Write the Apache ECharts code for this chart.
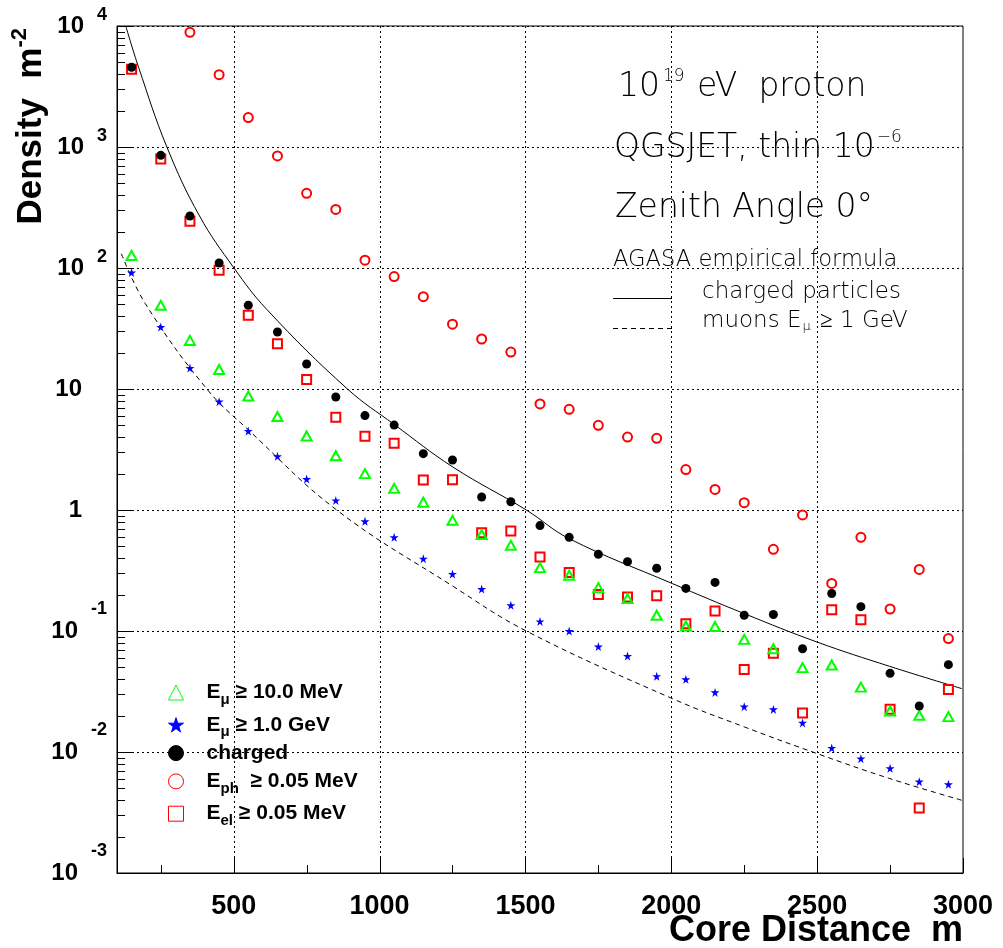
<!DOCTYPE html>
<html><head><meta charset="utf-8">
<script src="https://cdn.jsdelivr.net/npm/echarts@6/dist/echarts.min.js"></script>
<style>html,body{margin:0;padding:0;background:#fff}#c{width:1003px;height:948px}</style>
</head><body><div id="c"></div>
<script>
// ---- data ----
const distances = [150,250,350,450,550,650,750,850,950,1050,1150,1250,1350,1450,1550,1650,1750,1850,1950,2050,2150,2250,2350,2450,2550,2650,2750,2850,2950];
const charged = [4560,853,269,110,49.2,29.6,16.1,8.59,6.03,5.03,2.92,2.59,1.28,1.17,0.743,0.594,0.431,0.374,0.330,0.225,0.252,0.135,0.137,0.0714,0.204,0.159,0.0447,0.0240,0.0527];
const electrons = [4390,796,244,95.7,40.6,23.7,12.0,5.83,4.06,3.56,1.77,1.78,0.650,0.671,0.409,0.305,0.200,0.191,0.196,0.115,0.146,0.048,0.0655,0.0210,0.150,0.124,0.0226,0.00344,0.0328];
const photons = [null,null,8870,3960,1750,843,414,305,116,84.9,58.0,34.3,25.9,20.2,7.52,6.79,5.01,4.01,3.91,2.16,1.48,1.15,0.473,0.910,0.247,0.594,0.152,0.323,0.0865];
const muons10MeV = [127,49.2,25.2,14.5,8.75,5.92,4.09,2.81,2.00,1.51,1.16,0.822,0.627,0.511,0.334,0.289,0.228,0.185,0.135,0.110,0.109,0.0853,0.0714,0.0498,0.0524,0.0344,0.0218,0.0201,0.0196];
const muons1GeV = [91.6,32.5,14.9,7.86,4.50,2.78,1.80,1.20,0.807,0.594,0.396,0.296,0.222,0.163,0.120,0.100,0.0743,0.0621,0.0423,0.0399,0.0311,0.0237,0.0225,0.0174,0.0108,0.00881,0.00733,0.00569,0.00541];
// AGASA empirical formula curves
const agasaChargedX = [130,174,271,383,501,613,890,1050,1252,1503,1650,2003,2251,2500,2749,2996];
const agasaChargedY = [10000,4560,1000,269,100,45.6,10,5.1,2.26,1,0.58,0.247,0.139,0.081,0.051,0.0334];
const agasaMuonX = [115,197,408,550,853,1252,1503,2004,2251,2500,2749,2996];
const agasaMuonY = [131,50.8,10,4.6,1,0.234,0.1,0.0276,0.0161,0.0097,0.00603,0.00399];
// axes / ticks
const xMajorTicks = [500,1000,1500,2000,2500,3000];
const xGridLines = [500,1000,1500,2000,2500];
const xMinorTicks = [250,750,1250,1750,2250,2750];
const yMinorMultipliers = [2,3,4,5,6,7,8,9];
const yDecadeExponents = [-3,-2,-1,0,1,2,3];
const legendNames = ['mu10','mu1','charged','ph','el'];
const legendLabels = {
  mu10: '{m|E}{sub|μ}{m| ≥ 10.0 MeV}',
  mu1: '{m|E}{sub|μ}{m| ≥ 1.0 GeV}',
  charged: '{m|charged}',
  ph: '{m|E}{sub|ph}{m|  ≥ 0.05 MeV}',
  el: '{m|E}{sub|el}{m| ≥ 0.05 MeV}'
};

const X_MIN = 100, X_MAX = 3000, Y_MIN = 0.001, Y_MAX = 10000;
const yMinorTicks = [];
yDecadeExponents.forEach(e => yMinorMultipliers.forEach(k => yMinorTicks.push(+(k * Math.pow(10, e)).toPrecision(6))));

const pairs = (xs, ys) => xs.map((x, i) => [x, ys[i]]).filter(p => p[1] != null);
const FONT = 'Liberation Sans';
const ANN = 'DejaVu Sans';
const STAR = 'path://M50,0 L61,35 L98,35 L68,57 L79,91 L50,70 L21,91 L32,57 L2,35 L39,35 Z';

function tickSeries(data, dx, dy) {
  return {
    type: 'custom', silent: true, z: 6, clip: false, data: data,
    renderItem: (params, api) => {
      const p = api.coord([api.value(0), api.value(1)]);
      const x = Math.round(p[0]) + (dx === 0 ? 0.5 : 0), y = Math.round(p[1]) + (dy === 0 ? 0.5 : 0);
      return { type: 'line', shape: { x1: x, y1: y, x2: x + dx, y2: y + dy }, style: { stroke: '#000', lineWidth: 1 } };
    }
  };
}

const chart = echarts.init(document.getElementById('c'), null, { renderer: 'canvas' });
chart.setOption({
  animation: false,
  backgroundColor: '#fff',
  grid: { left: 117, top: 26, width: 846, height: 847, show: true, borderColor: '#000', borderWidth: 1, backgroundColor: 'transparent' },
  xAxis: {
    type: 'value', min: X_MIN, max: X_MAX,
    axisLine: { show: true, lineStyle: { color: '#000', width: 1 } },
    axisTick: { show: false },
    splitLine: { show: false },
    axisLabel: {
      customValues: xMajorTicks, margin: 20, formatter: v => String(v),
      fontFamily: FONT, fontWeight: 'bold', fontSize: 27, color: '#000', hideOverlap: false
    }
  },
  yAxis: {
    type: 'log', logBase: 10, min: Y_MIN, max: Y_MAX, splitNumber: 7,
    axisLine: { show: true, lineStyle: { color: '#000', width: 1 } },
    axisTick: { show: true, inside: true, length: 15, lineStyle: { color: '#000', width: 1 } },
    splitLine: { show: true, lineStyle: { color: '#000', width: 1, type: [2, 3] } },
    axisLabel: {
      margin: 10, color: '#000',
      formatter: v => {
        const e = Math.round(Math.log10(v));
        if (e === 0) return '{p|1}';
        if (e === 1) return '{p|10}';
        return '{b|10}' + (e > 0 ? '{sp|' : '{sn|') + e + '}';
      },
      rich: {
        p: { fontFamily: FONT, fontWeight: 'bold', fontSize: 24, color: '#000', padding: [0, 25, 0, 0] },
        b: { fontFamily: FONT, fontWeight: 'bold', fontSize: 24, color: '#000' },
        sp: { fontFamily: FONT, fontWeight: 'bold', fontSize: 18, color: '#000', padding: [0, 0, 22, 13] },
        sn: { fontFamily: FONT, fontWeight: 'bold', fontSize: 18, color: '#000', padding: [0, 0, 44, 13] }
      }
    }
  },
  legend: {
    data: legendNames, orient: 'vertical', left: 168, top: 678, padding: 0,
    itemWidth: 15, itemHeight: 15, itemGap: 3.3, selectedMode: false,
    itemStyle: { borderWidth: 1, opacity: 1 },
    formatter: n => legendLabels[n],
    textStyle: {
      padding: [0, 0, 0, 18],
      rich: {
        m: { fontFamily: FONT, fontWeight: 'bold', fontSize: 21, lineHeight: 30, color: '#000' },
        sub: { fontFamily: FONT, fontWeight: 'bold', fontSize: 15, lineHeight: 14, color: '#000', padding: [14, 0, 0, 0] }
      }
    }
  },
  graphic: [
    { type: 'text', x: 31, y: 28, rotation: Math.PI / 2,
      style: { text: '{t|Density  m}{s|-2}', align: 'right', verticalAlign: 'middle',
        rich: { t: { fontFamily: FONT, fontWeight: 'bold', fontSize: 35, fill: '#000' },
                s: { fontFamily: FONT, fontWeight: 'bold', fontSize: 22, fill: '#000', padding: [0, 0, 22, 0] } } } },
    { type: 'text', x: 963, y: 931,
      style: { text: 'Core Distance  m', align: 'right', verticalAlign: 'middle', font: 'bold 36px "Liberation Sans"', fill: '#000' } },
    { type: 'text', x: 618, y: 87,
      style: { text: '{a|10}{s|19}{a| eV  proton}', align: 'left', verticalAlign: 'middle',
        rich: { a: { fontFamily: ANN, fontWeight: 200, fontSize: 33, fill: '#000' },
                s: { fontFamily: ANN, fontWeight: 200, fontSize: 17, fill: '#000', padding: [0, 2, 20, 3] } } } },
    { type: 'text', x: 614, y: 148,
      style: { text: '{a|QGSJET, thin 10}{s|−6}', align: 'left', verticalAlign: 'middle',
        rich: { a: { fontFamily: ANN, fontWeight: 200, fontSize: 33, fill: '#000' },
                s: { fontFamily: ANN, fontWeight: 200, fontSize: 17, fill: '#000', padding: [0, 0, 20, 2] } } } },
    { type: 'text', x: 615, y: 208,
      style: { text: 'Zenith Angle 0°', align: 'left', verticalAlign: 'middle', font: '200 33px "DejaVu Sans"', fill: '#000' } },
    { type: 'text', x: 613, y: 260,
      style: { text: 'AGASA empirical formula', align: 'left', verticalAlign: 'middle', font: '200 22.6px "DejaVu Sans"', fill: '#000' } },
    { type: 'text', x: 702, y: 292,
      style: { text: 'charged particles', align: 'left', verticalAlign: 'middle', font: '200 23px "DejaVu Sans"', fill: '#000' } },
    { type: 'text', x: 702, y: 321,
      style: { text: '{a|muons E}{s|μ}{a| ≥ 1 GeV}', align: 'left', verticalAlign: 'middle',
        rich: { a: { fontFamily: ANN, fontWeight: 200, fontSize: 23, fill: '#000' },
                s: { fontFamily: ANN, fontWeight: 200, fontSize: 13, fill: '#000', padding: [12, 2, 0, 1] } } } },
    { type: 'line', shape: { x1: 613, y1: 298.5, x2: 672, y2: 298.5 }, style: { stroke: '#000', lineWidth: 1 } },
    { type: 'line', shape: { x1: 613, y1: 328.5, x2: 672, y2: 328.5 }, style: { stroke: '#000', lineWidth: 1, lineDash: [5, 4] } }
  ],
  series: [
    // grid lines and ticks
    { type: 'custom', silent: true, z: 1, data: xGridLines.map(v => [v, Y_MIN]),
      renderItem: (params, api) => {
        const p0 = api.coord([api.value(0), Y_MIN]), p1 = api.coord([api.value(0), Y_MAX]);
        const x = Math.round(p0[0]) + 0.5;
        return { type: 'line', shape: { x1: x, y1: p0[1], x2: x, y2: p1[1] }, style: { stroke: '#000', lineWidth: 1, lineDash: [2, 3] } };
      } },
    tickSeries(xMajorTicks.map(v => [v, Y_MIN]), 0, -15),
    tickSeries(xMinorTicks.map(v => [v, Y_MIN]), 0, -8),
    tickSeries(yMinorTicks.map(v => [X_MIN, v]), 8, 0),
    // AGASA curves
    { name: 'agasaCharged', type: 'line', data: pairs(agasaChargedX, agasaChargedY), smooth: 0.4, symbol: 'none', silent: true,
      lineStyle: { color: '#000', width: 1 }, z: 2 },
    { name: 'agasaMuon', type: 'line', data: pairs(agasaMuonX, agasaMuonY), smooth: 0.4, symbol: 'none', silent: true,
      lineStyle: { color: '#000', width: 1, type: [5, 4] }, z: 2 },
    // markers
    { name: 'ph', type: 'scatter', data: pairs(distances, photons), symbol: 'circle', symbolSize: 9,
      itemStyle: { color: 'rgba(0,0,0,0)', borderColor: '#ff0000', borderWidth: 2, opacity: 1 }, z: 3 },
    { name: 'el', type: 'scatter', data: pairs(distances, electrons), symbol: 'rect', symbolSize: 9,
      itemStyle: { color: 'rgba(0,0,0,0)', borderColor: '#ff0000', borderWidth: 2, opacity: 1 }, z: 3 },
    { name: 'mu10', type: 'scatter', data: pairs(distances, muons10MeV), symbol: 'triangle', symbolSize: [10, 9],
      itemStyle: { color: 'rgba(0,0,0,0)', borderColor: '#00ff00', borderWidth: 2, opacity: 1 }, z: 3 },
    { name: 'mu1', type: 'scatter', data: pairs(distances, muons1GeV), symbol: STAR, symbolSize: 9,
      itemStyle: { color: '#0000ff', borderColor: '#0000ff', borderWidth: 0, opacity: 1 }, z: 3 },
    { name: 'charged', type: 'scatter', data: pairs(distances, charged), symbol: 'circle', symbolSize: 9,
      itemStyle: { color: '#000', borderColor: '#000', borderWidth: 0, opacity: 1 }, z: 3 }
  ]
});
</script></body></html>
